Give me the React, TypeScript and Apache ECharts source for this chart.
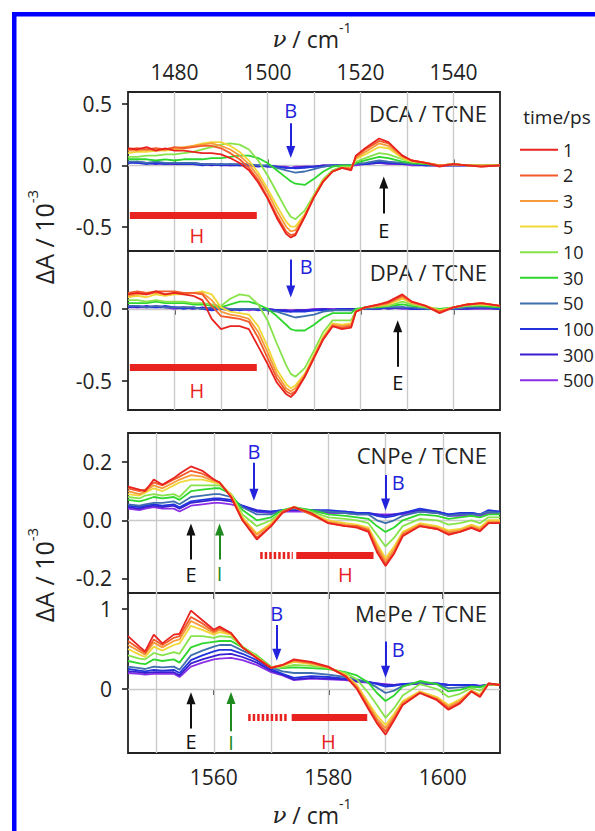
import React, { useEffect, useRef } from 'react';
import * as echarts from 'echarts';

const FONT = '"Open Sans", "DejaVu Sans", sans-serif';
const INK = '#222222';

const times = ['1', '2', '3', '5', '10', '30', '50', '100', '300', '500'];
const lineColors = ['#e8231f', '#f25b2a', '#f79a3c', '#f0d838', '#86e34a', '#2ed62e', '#3f6fae', '#2233dd', '#3a1fd0', '#8b2ee6'];

// ---------- upper pair (DCA, DPA) ----------
const xTop = [1470, 1472, 1474, 1476, 1478, 1480, 1482, 1484, 1486, 1488, 1490, 1492, 1494, 1496, 1498, 1500, 1502, 1504, 1505, 1506, 1508, 1510, 1512, 1514, 1516, 1518, 1519, 1521, 1524, 1526, 1529, 1531, 1534, 1537, 1540, 1543, 1546, 1550];
const topTicks = [1480, 1500, 1520, 1540];
const topGridX = [1480, 1490, 1500, 1510, 1520, 1530, 1540];

const dca1 = [0.14, 0.13, 0.15, 0.12, 0.14, 0.12, 0.12, 0.11, 0.10, 0.10, 0.09, 0.06, 0.02, -0.04, -0.14, -0.27, -0.43, -0.56, -0.59, -0.57, -0.42, -0.26, -0.13, -0.05, -0.02, -0.04, 0.08, 0.14, 0.22, 0.19, 0.08, 0.04, 0.02, -0.01, 0.01, 0.0, -0.01, 0.0];
const dca2 = [0.13, 0.14, 0.13, 0.14, 0.13, 0.15, 0.14, 0.15, 0.16, 0.16, 0.14, 0.10, 0.05, -0.02, -0.12, -0.26, -0.41, -0.54, -0.57, -0.56, -0.42, -0.26, -0.13, -0.05, -0.02, -0.03, 0.07, 0.13, 0.20, 0.18, 0.08, 0.04, 0.02, 0.0, 0.01, 0.0, -0.01, 0.0];
const dca3 = [0.12, 0.12, 0.13, 0.12, 0.13, 0.14, 0.15, 0.16, 0.17, 0.18, 0.16, 0.13, 0.08, 0.01, -0.09, -0.22, -0.37, -0.50, -0.54, -0.53, -0.41, -0.26, -0.13, -0.05, -0.02, -0.02, 0.06, 0.11, 0.18, 0.16, 0.07, 0.04, 0.02, 0.0, 0.01, 0.0, 0.0, 0.0];
const dca5 = [0.10, 0.11, 0.11, 0.12, 0.12, 0.13, 0.14, 0.16, 0.18, 0.19, 0.19, 0.16, 0.11, 0.04, -0.06, -0.19, -0.33, -0.46, -0.50, -0.50, -0.40, -0.25, -0.12, -0.05, -0.02, -0.02, 0.05, 0.09, 0.15, 0.14, 0.06, 0.03, 0.02, 0.0, 0.01, 0.0, 0.0, 0.0];
const dca10 = [0.07, 0.07, 0.08, 0.08, 0.09, 0.09, 0.10, 0.11, 0.13, 0.15, 0.17, 0.18, 0.17, 0.13, 0.04, -0.08, -0.22, -0.36, -0.42, -0.44, -0.37, -0.24, -0.11, -0.04, -0.01, -0.01, 0.03, 0.06, 0.10, 0.09, 0.05, 0.03, 0.02, 0.0, 0.01, 0.0, 0.0, 0.0];
const dca30 = [0.05, 0.05, 0.05, 0.04, 0.05, 0.04, 0.05, 0.05, 0.05, 0.06, 0.06, 0.07, 0.08, 0.08, 0.06, 0.02, -0.04, -0.10, -0.13, -0.15, -0.16, -0.11, -0.05, -0.01, 0.0, 0.0, 0.02, 0.04, 0.07, 0.06, 0.03, 0.02, 0.01, 0.0, 0.01, 0.0, 0.0, 0.0];
const dca50 = [0.03, 0.03, 0.02, 0.03, 0.02, 0.02, 0.02, 0.02, 0.01, 0.01, 0.01, 0.01, 0.01, 0.01, 0.0, 0.0, -0.02, -0.04, -0.05, -0.06, -0.05, -0.03, -0.01, 0.0, 0.0, 0.0, 0.01, 0.02, 0.04, 0.03, 0.02, 0.01, 0.01, 0.0, 0.0, 0.0, 0.0, 0.0];
const dca100 = [0.02, 0.02, 0.01, 0.02, 0.01, 0.02, 0.01, 0.01, 0.0, 0.01, 0.0, 0.01, 0.0, 0.0, 0.0, -0.01, -0.01, -0.02, -0.02, -0.025, -0.02, -0.01, -0.01, 0.0, 0.0, 0.0, 0.01, 0.01, 0.03, 0.02, 0.02, 0.01, 0.0, 0.0, 0.0, 0.0, 0.0, 0.0];
const dca300 = [0.03, 0.02, 0.02, 0.01, 0.02, 0.01, 0.01, 0.02, 0.01, 0.0, 0.01, 0.0, 0.0, 0.0, -0.01, 0.0, -0.01, -0.02, -0.02, -0.02, -0.01, -0.01, 0.0, 0.0, 0.0, 0.0, 0.01, 0.01, 0.02, 0.02, 0.01, 0.01, 0.0, 0.0, 0.0, 0.0, 0.0, 0.0];
const dca500 = [0.02, 0.03, 0.02, 0.02, 0.01, 0.01, 0.02, 0.01, 0.01, 0.01, 0.0, 0.0, 0.01, 0.0, 0.0, -0.01, -0.01, -0.01, -0.02, -0.01, -0.01, -0.01, 0.0, 0.0, 0.0, 0.0, 0.0, 0.01, 0.02, 0.01, 0.01, 0.0, 0.0, 0.0, 0.0, 0.0, 0.0, 0.0];

const dpa1 = [0.10, 0.11, 0.10, 0.12, 0.10, 0.11, 0.10, 0.09, 0.06, -0.07, -0.14, -0.12, -0.12, -0.14, -0.26, -0.38, -0.51, -0.59, -0.61, -0.58, -0.47, -0.34, -0.21, -0.12, -0.14, -0.13, -0.02, 0.01, 0.03, 0.05, 0.10, 0.05, 0.02, -0.03, 0.01, 0.03, 0.04, 0.02];
const dpa2 = [0.11, 0.12, 0.11, 0.12, 0.12, 0.12, 0.11, 0.11, 0.10, 0.02, -0.05, -0.06, -0.07, -0.09, -0.20, -0.34, -0.48, -0.57, -0.59, -0.57, -0.47, -0.34, -0.21, -0.12, -0.13, -0.12, -0.02, 0.01, 0.03, 0.04, 0.09, 0.05, 0.02, -0.02, 0.01, 0.03, 0.04, 0.02];
const dpa3 = [0.09, 0.10, 0.10, 0.11, 0.10, 0.11, 0.11, 0.11, 0.11, 0.06, -0.02, -0.04, -0.05, -0.07, -0.16, -0.30, -0.45, -0.55, -0.57, -0.55, -0.46, -0.33, -0.20, -0.11, -0.12, -0.11, -0.02, 0.01, 0.02, 0.04, 0.08, 0.04, 0.02, -0.02, 0.01, 0.03, 0.04, 0.02];
const dpa5 = [0.08, 0.09, 0.08, 0.10, 0.09, 0.10, 0.10, 0.11, 0.12, 0.10, 0.01, -0.02, -0.03, -0.04, -0.12, -0.26, -0.42, -0.52, -0.55, -0.53, -0.45, -0.32, -0.19, -0.10, -0.11, -0.10, -0.02, 0.01, 0.02, 0.03, 0.07, 0.04, 0.02, -0.01, 0.01, 0.03, 0.03, 0.02];
const dpa10 = [0.06, 0.06, 0.05, 0.06, 0.05, 0.05, 0.05, 0.04, 0.04, 0.03, 0.02, 0.07, 0.10, 0.09, 0.03, -0.08, -0.24, -0.39, -0.45, -0.47, -0.41, -0.29, -0.16, -0.08, -0.08, -0.08, -0.01, 0.01, 0.02, 0.02, 0.05, 0.03, 0.01, -0.01, 0.01, 0.02, 0.03, 0.02];
const dpa30 = [0.04, 0.04, 0.04, 0.05, 0.04, 0.04, 0.04, 0.03, 0.03, 0.02, 0.01, 0.03, 0.05, 0.05, 0.03, 0.0, -0.05, -0.11, -0.14, -0.15, -0.15, -0.11, -0.06, -0.03, -0.03, -0.03, 0.0, 0.01, 0.01, 0.02, 0.03, 0.02, 0.01, 0.0, 0.01, 0.02, 0.02, 0.01];
const dpa50 = [0.02, 0.02, 0.01, 0.02, 0.01, 0.01, 0.01, 0.01, 0.0, 0.01, 0.0, 0.0, 0.0, 0.0, 0.0, -0.01, -0.02, -0.04, -0.05, -0.06, -0.05, -0.04, -0.02, -0.01, -0.01, -0.01, 0.0, 0.0, 0.01, 0.01, 0.01, 0.01, 0.0, 0.0, 0.0, 0.01, 0.01, 0.01];
const dpa100 = [0.01, 0.02, 0.01, 0.01, 0.02, 0.01, 0.0, 0.01, 0.0, -0.01, 0.0, 0.0, -0.01, 0.0, 0.0, -0.01, -0.01, -0.02, -0.02, -0.02, -0.02, -0.01, -0.01, -0.01, 0.0, -0.01, 0.0, 0.0, 0.0, 0.01, 0.01, 0.0, 0.0, 0.0, 0.0, 0.01, 0.01, 0.0];
const dpa300 = [0.02, 0.01, 0.02, 0.01, 0.01, 0.01, 0.01, 0.0, 0.01, 0.0, 0.0, -0.01, 0.0, 0.0, -0.01, 0.0, -0.01, -0.01, -0.02, -0.01, -0.01, -0.01, 0.0, -0.01, 0.0, 0.0, 0.0, 0.0, 0.01, 0.0, 0.01, 0.0, 0.0, 0.0, 0.0, 0.0, 0.01, 0.0];
const dpa500 = [0.01, 0.01, 0.01, 0.02, 0.01, 0.0, 0.01, 0.01, 0.0, 0.0, 0.01, 0.0, 0.0, -0.01, 0.0, 0.0, -0.01, -0.01, -0.01, -0.01, -0.01, 0.0, 0.0, 0.0, 0.0, 0.0, 0.0, 0.0, 0.0, 0.01, 0.0, 0.0, 0.0, 0.0, 0.0, 0.0, 0.0, 0.0];

// ---------- lower pair (CNPe, MePe) ----------
const xBot = [1545, 1547, 1548, 1549.5, 1551, 1553, 1554, 1556, 1558, 1560, 1561, 1563, 1565, 1567.5, 1570, 1572, 1574, 1577, 1580, 1583, 1585, 1587, 1588.5, 1590, 1591.5, 1593, 1596, 1599, 1601, 1603, 1605, 1606.5, 1608, 1610];
const botTicks = [1560, 1580, 1600];
const botGridX = [1550, 1560, 1570, 1580, 1590, 1600];

const cnpe1 = [0.116, 0.105, 0.10, 0.14, 0.122, 0.145, 0.16, 0.185, 0.17, 0.14, 0.13, 0.08, 0.0, -0.066, -0.02, 0.025, 0.045, 0.025, -0.01, -0.02, -0.025, -0.04, -0.11, -0.157, -0.115, -0.055, -0.02, -0.03, -0.05, -0.04, -0.026, -0.038, -0.01, -0.01];
const cnpe2 = [0.11, 0.10, 0.105, 0.13, 0.12, 0.14, 0.15, 0.17, 0.16, 0.14, 0.13, 0.08, 0.0, -0.06, -0.02, 0.03, 0.045, 0.02, -0.01, -0.02, -0.02, -0.035, -0.10, -0.15, -0.11, -0.05, -0.02, -0.03, -0.045, -0.04, -0.025, -0.035, -0.01, -0.01];
const cnpe3 = [0.10, 0.09, 0.10, 0.12, 0.11, 0.13, 0.14, 0.155, 0.15, 0.135, 0.13, 0.085, 0.005, -0.05, -0.015, 0.03, 0.045, 0.02, -0.005, -0.015, -0.02, -0.03, -0.09, -0.14, -0.10, -0.045, -0.015, -0.025, -0.04, -0.035, -0.02, -0.03, -0.005, -0.005];
const cnpe5 = [0.09, 0.085, 0.095, 0.11, 0.10, 0.12, 0.13, 0.14, 0.14, 0.13, 0.125, 0.09, 0.01, -0.045, -0.01, 0.03, 0.045, 0.025, 0.0, -0.01, -0.015, -0.025, -0.08, -0.13, -0.09, -0.04, -0.01, -0.02, -0.035, -0.03, -0.015, -0.025, 0.0, 0.0];
const cnpe10 = [0.08, 0.075, 0.085, 0.09, 0.085, 0.09, 0.08, 0.12, 0.12, 0.12, 0.12, 0.09, 0.02, -0.02, 0.0, 0.03, 0.045, 0.03, 0.01, 0.005, 0.0, -0.01, -0.05, -0.09, -0.06, -0.02, 0.005, 0.0, -0.015, -0.01, 0.0, -0.01, 0.01, 0.01];
const cnpe30 = [0.07, 0.065, 0.07, 0.08, 0.075, 0.08, 0.07, 0.10, 0.105, 0.11, 0.11, 0.09, 0.035, 0.0, 0.01, 0.035, 0.045, 0.035, 0.02, 0.015, 0.01, 0.005, -0.02, -0.04, -0.025, 0.0, 0.02, 0.015, 0.005, 0.01, 0.015, 0.01, 0.02, 0.02];
const cnpe50 = [0.055, 0.05, 0.055, 0.06, 0.06, 0.065, 0.055, 0.08, 0.085, 0.09, 0.09, 0.08, 0.045, 0.02, 0.02, 0.035, 0.04, 0.035, 0.03, 0.025, 0.02, 0.02, 0.0, -0.01, 0.0, 0.015, 0.03, 0.025, 0.015, 0.02, 0.02, 0.02, 0.03, 0.025];
const cnpe100 = [0.05, 0.045, 0.05, 0.055, 0.05, 0.055, 0.045, 0.065, 0.07, 0.075, 0.075, 0.07, 0.05, 0.03, 0.03, 0.035, 0.04, 0.035, 0.035, 0.03, 0.025, 0.025, 0.015, 0.01, 0.015, 0.025, 0.04, 0.03, 0.02, 0.025, 0.025, 0.02, 0.035, 0.03];
const cnpe300 = [0.045, 0.04, 0.045, 0.05, 0.045, 0.05, 0.04, 0.06, 0.065, 0.07, 0.07, 0.065, 0.05, 0.035, 0.03, 0.035, 0.035, 0.035, 0.03, 0.03, 0.025, 0.025, 0.02, 0.015, 0.02, 0.025, 0.035, 0.03, 0.02, 0.02, 0.025, 0.02, 0.03, 0.03];
const cnpe500 = [0.04, 0.035, 0.04, 0.045, 0.04, 0.04, 0.03, 0.05, 0.055, 0.06, 0.06, 0.055, 0.045, 0.03, 0.025, 0.03, 0.03, 0.03, 0.025, 0.025, 0.02, 0.02, 0.02, 0.02, 0.02, 0.02, 0.03, 0.025, 0.015, 0.015, 0.02, 0.015, 0.025, 0.025];

const mepe1 = [0.66, 0.53, 0.47, 0.68, 0.57, 0.68, 0.69, 0.98, 0.86, 0.74, 0.78, 0.70, 0.52, 0.385, 0.26, 0.30, 0.37, 0.34, 0.28, 0.16, 0.0, -0.25, -0.43, -0.57, -0.39, -0.20, -0.05, -0.14, -0.26, -0.18, -0.03, -0.10, 0.07, 0.05];
const mepe2 = [0.60, 0.50, 0.45, 0.62, 0.55, 0.64, 0.66, 0.90, 0.82, 0.72, 0.76, 0.70, 0.52, 0.39, 0.27, 0.30, 0.36, 0.33, 0.27, 0.16, 0.01, -0.23, -0.40, -0.53, -0.37, -0.19, -0.05, -0.13, -0.24, -0.17, -0.03, -0.09, 0.07, 0.05];
const mepe3 = [0.55, 0.47, 0.43, 0.58, 0.52, 0.60, 0.62, 0.85, 0.78, 0.70, 0.74, 0.69, 0.52, 0.39, 0.27, 0.30, 0.35, 0.32, 0.27, 0.17, 0.03, -0.20, -0.37, -0.49, -0.34, -0.17, -0.04, -0.12, -0.22, -0.15, -0.02, -0.08, 0.06, 0.05];
const mepe5 = [0.50, 0.43, 0.40, 0.53, 0.48, 0.55, 0.57, 0.79, 0.74, 0.68, 0.71, 0.68, 0.52, 0.40, 0.27, 0.29, 0.34, 0.31, 0.27, 0.18, 0.05, -0.17, -0.33, -0.45, -0.31, -0.15, -0.03, -0.10, -0.20, -0.13, -0.02, -0.07, 0.06, 0.05];
const mepe10 = [0.42, 0.38, 0.37, 0.45, 0.42, 0.46, 0.44, 0.66, 0.66, 0.64, 0.66, 0.65, 0.53, 0.41, 0.27, 0.27, 0.30, 0.29, 0.26, 0.20, 0.12, -0.05, -0.20, -0.36, -0.24, -0.08, 0.06, 0.0, -0.10, -0.06, 0.01, -0.02, 0.06, 0.05];
const mepe30 = [0.35, 0.32, 0.31, 0.37, 0.35, 0.37, 0.33, 0.52, 0.57, 0.59, 0.60, 0.60, 0.52, 0.42, 0.28, 0.26, 0.27, 0.26, 0.25, 0.21, 0.17, 0.08, -0.05, -0.15, -0.08, 0.03, 0.10, 0.06, -0.03, -0.01, 0.03, 0.02, 0.06, 0.05];
const mepe50 = [0.28, 0.26, 0.25, 0.28, 0.27, 0.28, 0.24, 0.42, 0.48, 0.53, 0.55, 0.55, 0.48, 0.40, 0.27, 0.22, 0.20, 0.20, 0.18, 0.15, 0.12, 0.08, 0.02, -0.05, -0.02, 0.04, 0.08, 0.06, 0.01, 0.02, 0.03, 0.03, 0.05, 0.05];
const mepe100 = [0.25, 0.23, 0.22, 0.24, 0.23, 0.24, 0.20, 0.36, 0.42, 0.47, 0.49, 0.49, 0.44, 0.36, 0.25, 0.19, 0.14, 0.16, 0.15, 0.13, 0.11, 0.09, 0.06, 0.03, 0.04, 0.06, 0.08, 0.07, 0.05, 0.05, 0.05, 0.04, 0.05, 0.05];
const mepe300 = [0.22, 0.21, 0.20, 0.21, 0.21, 0.21, 0.17, 0.32, 0.37, 0.41, 0.43, 0.44, 0.40, 0.33, 0.23, 0.18, 0.12, 0.14, 0.13, 0.12, 0.10, 0.09, 0.07, 0.05, 0.05, 0.06, 0.07, 0.07, 0.05, 0.05, 0.05, 0.04, 0.05, 0.05];
const mepe500 = [0.20, 0.19, 0.18, 0.19, 0.19, 0.19, 0.15, 0.28, 0.33, 0.37, 0.38, 0.39, 0.36, 0.30, 0.21, 0.17, 0.11, 0.13, 0.12, 0.11, 0.09, 0.08, 0.07, 0.06, 0.05, 0.06, 0.06, 0.06, 0.05, 0.05, 0.05, 0.04, 0.05, 0.05];

// ---------- annotations (data coordinates) ----------
type Arrow = { x: number; y0: number; y1: number; k: string };
type Label = { x: number; y: number; t: string };
type Bar = { x0: number; x1: number; y: number; dashed: boolean };

const dcaArrows: Arrow[] = [{ x: 1505, y0: 0.344, y1: 0.11, k: 'B' }, { x: 1525, y0: -0.393, y1: -0.14, k: 'E' }];
const dcaLabels: Label[] = [{ x: 1505, y: 0.45, t: 'B' }, { x: 1525, y: -0.533, t: 'E' }, { x: 1484.8, y: -0.574, t: 'H' }];
const dcaBars: Bar[] = [{ x0: 1470.4, x1: 1497.7, y: -0.41, dashed: false }];

const dpaArrows: Arrow[] = [{ x: 1505, y0: 0.342, y1: 0.12, k: 'B' }, { x: 1528, y0: -0.40, y1: -0.12, k: 'E' }];
const dpaLabels: Label[] = [{ x: 1508.3, y: 0.296, t: 'B' }, { x: 1528, y: -0.51, t: 'E' }, { x: 1484.8, y: -0.565, t: 'H' }];
const dpaBars: Bar[] = [{ x0: 1470.4, x1: 1497.7, y: -0.405, dashed: false }];

const cnpeArrows: Arrow[] = [{ x: 1567, y0: 0.198, y1: 0.088, k: 'B' }, { x: 1590, y0: 0.156, y1: 0.054, k: 'B' }, { x: 1556, y0: -0.135, y1: -0.032, k: 'E' }, { x: 1561, y0: -0.135, y1: -0.032, k: 'I' }];
const cnpeLabels: Label[] = [{ x: 1567, y: 0.236, t: 'B' }, { x: 1592.2, y: 0.13, t: 'B' }, { x: 1556, y: -0.186, t: 'E' }, { x: 1561, y: -0.183, t: 'I' }, { x: 1583, y: -0.186, t: 'H' }];
const cnpeBars: Bar[] = [{ x0: 1568.1, x1: 1573.8, y: -0.12, dashed: true }, { x0: 1574.4, x1: 1587.9, y: -0.12, dashed: false }];

const mepeArrows: Arrow[] = [{ x: 1571, y0: 0.80, y1: 0.427, k: 'B' }, { x: 1590, y0: 0.593, y1: 0.217, k: 'B' }, { x: 1556, y0: -0.493, y1: -0.117, k: 'E' }, { x: 1563, y0: -0.527, y1: -0.113, k: 'I' }];
const mepeLabels: Label[] = [{ x: 1571, y: 0.95, t: 'B' }, { x: 1592.2, y: 0.498, t: 'B' }, { x: 1556, y: -0.66, t: 'E' }, { x: 1563, y: -0.665, t: 'I' }, { x: 1580, y: -0.652, t: 'H' }];
const mepeBars: Bar[] = [{ x0: 1566, x1: 1573, y: -0.348, dashed: true }, { x0: 1573.6, x1: 1586.8, y: -0.348, dashed: false }];

const markColors: Record<string, string> = { B: '#2323dd', E: '#111111', I: '#1f8a1f', H: '#e8231f' };

function buildOption() {
  const panels = [
    { x: xTop, ys: [dca1, dca2, dca3, dca5, dca10, dca30, dca50, dca100, dca300, dca500], arrows: dcaArrows, labels: dcaLabels, bars: dcaBars, gridX: topGridX },
    { x: xTop, ys: [dpa1, dpa2, dpa3, dpa5, dpa10, dpa30, dpa50, dpa100, dpa300, dpa500], arrows: dpaArrows, labels: dpaLabels, bars: dpaBars, gridX: topGridX },
    { x: xBot, ys: [cnpe1, cnpe2, cnpe3, cnpe5, cnpe10, cnpe30, cnpe50, cnpe100, cnpe300, cnpe500], arrows: cnpeArrows, labels: cnpeLabels, bars: cnpeBars, gridX: botGridX },
    { x: xBot, ys: [mepe1, mepe2, mepe3, mepe5, mepe10, mepe30, mepe50, mepe100, mepe300, mepe500], arrows: mepeArrows, labels: mepeLabels, bars: mepeBars, gridX: botGridX },
  ];

  const series: any[] = [];
  panels.forEach((p, gi) => {
    for (let k = times.length - 1; k >= 0; k--) {
      const s: any = {
        type: 'line',
        name: times[k],
        xAxisIndex: gi,
        yAxisIndex: gi,
        data: p.x.map((x, i) => [x, p.ys[k][i]]),
        symbol: 'none',
        showSymbol: false,
        lineStyle: { width: 1.8, color: lineColors[k] },
        itemStyle: { color: lineColors[k] },
        silent: true,
        z: 2,
      };
      if (k === times.length - 1) {
        s.markLine = {
          silent: true,
          z: 1,
          symbol: ['none', 'none'],
          label: { show: false },
          lineStyle: { color: '#cacaca', width: 1.4, type: 'solid' },
          emphasis: { disabled: true },
          data: [...p.gridX.map((v) => ({ xAxis: v })), { yAxis: 0 }],
        };
      }
      if (k === 0) {
        const arrowLines = p.arrows.map((a) => [
          { coord: [a.x, a.y0], symbol: 'none', lineStyle: { color: markColors[a.k], width: 2, type: 'solid' } },
          { coord: [a.x, a.y1], symbol: 'triangle', symbolSize: [9, 12] },
        ]);
        const barLines = p.bars.map((b) => [
          { coord: [b.x0, b.y], symbol: 'none', lineStyle: { color: markColors.H, width: 7, type: b.dashed ? [2.5, 2] : 'solid', cap: 'butt' } },
          { coord: [b.x1, b.y], symbol: 'none' },
        ]);
        s.markLine = {
          silent: true,
          z: 5,
          symbol: ['none', 'none'],
          label: { show: false },
          emphasis: { disabled: true },
          data: [...arrowLines, ...barLines],
        };
        s.markPoint = {
          silent: true,
          z: 6,
          symbol: 'circle',
          symbolSize: 0,
          itemStyle: { color: 'rgba(0,0,0,0)', borderWidth: 0 },
          label: { show: true, position: 'inside', fontFamily: FONT, fontSize: 20 },
          emphasis: { disabled: true },
          data: p.labels.map((l) => ({ coord: [l.x, l.y], label: { formatter: l.t, color: markColors[l.t] } })),
        };
      }
      series.push(s);
    }
  });

  const tickStyle = { color: INK, width: 1.6 };
  const labelStyle = { fontFamily: FONT, fontSize: 21, color: INK };
  const noAxisLine = { show: false };
  const plain = (v: number) => String(v);

  const xAxis: any[] = [
    { gridIndex: 0, type: 'value', position: 'top', min: 1470, max: 1550, axisLine: noAxisLine, splitLine: { show: false },
      axisTick: { show: true, customValues: topTicks, length: 6, inside: false, lineStyle: tickStyle },
      axisLabel: { show: true, customValues: topTicks, margin: 10, formatter: plain, ...labelStyle } },
    { gridIndex: 1, type: 'value', position: 'top', min: 1470, max: 1550, axisLine: noAxisLine, splitLine: { show: false },
      axisTick: { show: true, customValues: topTicks, length: 6, inside: true, lineStyle: tickStyle },
      axisLabel: { show: false } },
    { gridIndex: 2, type: 'value', position: 'bottom', min: 1545, max: 1610, axisLine: noAxisLine, splitLine: { show: false },
      axisTick: { show: false }, axisLabel: { show: false } },
    { gridIndex: 3, type: 'value', position: 'bottom', min: 1545, max: 1610, axisLine: noAxisLine, splitLine: { show: false },
      axisTick: { show: true, customValues: botTicks, length: 6, inside: false, lineStyle: tickStyle },
      axisLabel: { show: true, customValues: botTicks, margin: 13, formatter: plain, ...labelStyle } },
    { gridIndex: 3, type: 'value', position: 'top', min: 1545, max: 1610, axisLine: noAxisLine, splitLine: { show: false },
      axisTick: { show: true, customValues: botTicks, length: 6, inside: true, lineStyle: tickStyle },
      axisLabel: { show: false } },
  ];

  const yDefs = [
    { min: -0.7, max: 0.6, ticks: [-0.5, 0, 0.5], dec: 1 },
    { min: -0.7, max: 0.4, ticks: [-0.5, 0], dec: 1 },
    { min: -0.25, max: 0.3, ticks: [-0.2, 0, 0.2], dec: 1 },
    { min: -0.8, max: 1.2, ticks: [0, 1], dec: 0 },
  ];
  const yAxis: any[] = yDefs.map((d, gi) => ({
    gridIndex: gi, type: 'value', min: d.min, max: d.max, axisLine: noAxisLine, splitLine: { show: false },
    axisTick: { show: true, customValues: d.ticks, length: 6, inside: false, lineStyle: tickStyle },
    axisLabel: { show: true, customValues: d.ticks, margin: 16, formatter: (v: number) => v.toFixed(d.dec), ...labelStyle },
  }));

  const gridBase = { left: 128, width: 372, show: true, borderColor: INK, borderWidth: 1.8, backgroundColor: 'rgba(0,0,0,0)' };
  const grid = [
    { ...gridBase, top: 92, height: 159 },
    { ...gridBase, top: 251, height: 159 },
    { ...gridBase, top: 433, height: 160 },
    { ...gridBase, top: 593, height: 160 },
  ];

  const richX = {
    n: { fontFamily: 'DejaVu Serif', fontStyle: 'italic', fontSize: 23, lineHeight: 30, verticalAlign: 'bottom', fill: INK },
    t: { fontFamily: FONT, fontSize: 23, lineHeight: 30, verticalAlign: 'bottom', fill: INK },
    s: { fontFamily: FONT, fontSize: 14, lineHeight: 15, verticalAlign: 'top', fill: INK },
  };
  const richY = {
    t: { fontFamily: FONT, fontSize: 25, lineHeight: 32, verticalAlign: 'bottom', fill: INK },
    s: { fontFamily: FONT, fontSize: 15, lineHeight: 16, verticalAlign: 'top', fill: INK },
  };
  const panelTitle = (text: string, y: number) => ({
    type: 'text', x: 487, y, silent: true,
    style: { text, align: 'right', verticalAlign: 'middle', fontFamily: FONT, fontSize: 22, fill: INK },
  });

  const graphic: any[] = [
    { type: 'rect', shape: { x: 12, y: 12, width: 583, height: 4.5 }, style: { fill: '#0000ff' }, silent: true },
    { type: 'rect', shape: { x: 12, y: 12, width: 4.5, height: 819 }, style: { fill: '#0000ff' }, silent: true },
    panelTitle('DCA / TCNE', 113),
    panelTitle('DPA / TCNE', 272),
    panelTitle('CNPe / TCNE', 455),
    panelTitle('MePe / TCNE', 613),
    { type: 'text', x: 312, y: 35, silent: true, style: { text: '{n|ν}{t| / cm}{s|-1}', align: 'center', verticalAlign: 'middle', rich: richX } },
    { type: 'text', x: 312, y: 811, silent: true, style: { text: '{n|ν}{t| / cm}{s|-1}', align: 'center', verticalAlign: 'middle', rich: richX } },
    { type: 'text', x: 40, y: 237, rotation: Math.PI / 2, silent: true, style: { text: '{t|ΔA / 10}{s|-3}', align: 'center', verticalAlign: 'middle', rich: richY } },
    { type: 'text', x: 40, y: 575, rotation: Math.PI / 2, silent: true, style: { text: '{t|ΔA / 10}{s|-3}', align: 'center', verticalAlign: 'middle', rich: richY } },
    { type: 'text', x: 557, y: 117, silent: true, style: { text: 'time/ps', align: 'center', verticalAlign: 'middle', fontFamily: FONT, fontSize: 19, fill: INK } },
  ];

  return {
    animation: false,
    backgroundColor: '#ffffff',
    grid,
    xAxis,
    yAxis,
    legend: {
      data: times,
      orient: 'vertical',
      left: 515,
      top: 132,
      icon: 'rect',
      itemWidth: 38,
      itemHeight: 2,
      itemGap: 0,
      selectedMode: false,
      textStyle: { fontFamily: FONT, fontSize: 18, color: INK, lineHeight: 25.6 },
    },
    series,
    graphic,
  };
}

export default function App() {
  const ref = useRef<HTMLDivElement>(null);
  useEffect(() => {
    const chart = echarts.init(ref.current as HTMLDivElement, null, { renderer: 'svg' });
    chart.setOption(buildOption() as any);
    return () => chart.dispose();
  }, []);
  return <div ref={ref} style={{ position: 'fixed', left: 0, top: 0, width: 595, height: 831, background: '#fff' }} />;
}
